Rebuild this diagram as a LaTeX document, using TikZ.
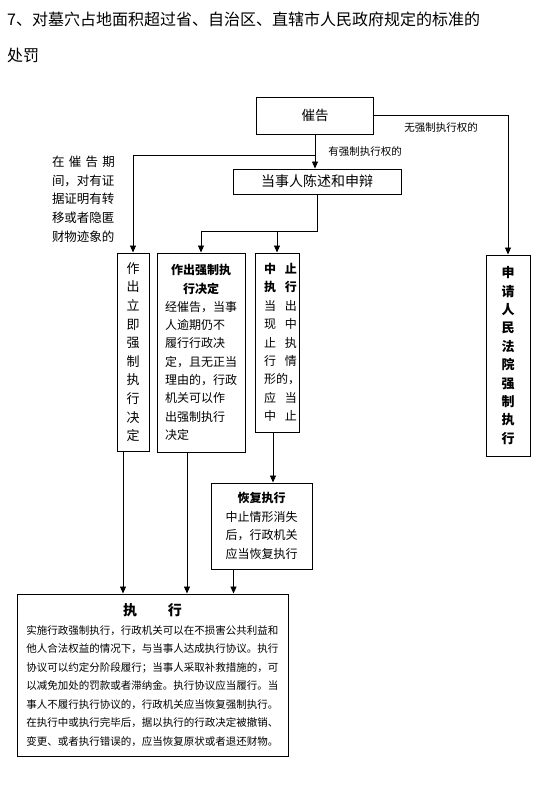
\documentclass[tikz,border=0pt]{standalone}
\usepackage{fontspec}
\setmainfont{Noto Sans CJK SC}
\usetikzlibrary{positioning, arrows.meta}

\newcommand{\twochar}[2]{\makebox[40pt][r]{\makebox[33pt][s]{#1\hfill#2}}}

\begin{document}
\begin{tikzpicture}[x=1pt, y=-1pt,
        box/.style={draw, line width=1pt, inner sep=0pt},
        note/.style={inner sep=0pt, font=\fontsize{10.5}{12}\selectfont},
        arrow/.style={-{Triangle[width=6pt, length=7pt]}, line width=0.9pt}
    ]
    \useasboundingbox (0,0) rectangle (547,788);

    % heading
    \node[anchor=west, inner sep=0pt, font=\fontsize{16}{18}\selectfont] (title) at (7,19) {7、对墓穴占地面积超过省、自治区、直辖市人民政府规定的标准的};
    \node[anchor=west, inner sep=0pt, font=\fontsize{16}{18}\selectfont] (title2) at (7,55) {处罚};

    \node[box, minimum width=117, minimum height=37, font=\fontsize{13.5}{16}\selectfont] (cuigao) at (315,115.5) {催告};
    \node[box, minimum width=168, minimum height=25, font=\fontsize{14}{16}\selectfont] (chenshu) at (317,181.5) {当事人陈述和申辩};
    \node[inner sep=0pt, align=left, font=\fontsize{12.5}{18.75}\selectfont] (youzheng) at (83.5,199) {\makebox[63pt][s]{在\hfill 催\hfill 告\hfill 期}\\间，对有证\\据证明有转\\移或者隐匿\\财物迹象的};

    % middle row
    \node[box, minimum width=32, minimum height=198, align=center, font=\fontsize{13}{18.6}\selectfont] (liji) at (133,352) {作\\出\\立\\即\\强\\制\\执\\行\\决\\定};
    \node[box, minimum width=88, minimum height=199, align=left, font=\fontsize{12}{18.3}\selectfont] (qiangzhi) at (201,352.5) {\makebox[72pt]{\bfseries 作出强制执}\\\makebox[72pt]{\bfseries 行决定}\\经催告，当事\\人逾期仍不\\履行行政决\\定，且无正当\\理由的，行政\\机关可以作\\出强制执行\\决定};
    \node[box, minimum width=44, minimum height=179, align=left, font=\fontsize{12}{18.4}\selectfont] (zhongzhi) at (277,342.5) {{\bfseries\twochar{中}{止}}\\{\bfseries\twochar{执}{行}}\\\twochar{当}{出}\\\twochar{现}{中}\\\twochar{止}{执}\\\twochar{行}{情}\\\makebox[40pt][r]{\makebox[33pt][l]{形的，}}\\\twochar{应}{当}\\\twochar{中}{止}};
    \node[box, minimum width=44, minimum height=201, align=center, font=\fontsize{13}{18.4}\selectfont\bfseries] (shenqing) at (508,355.5) {申\\请\\人\\民\\法\\院\\强\\制\\执\\行};
    \node[box, minimum width=101, minimum height=86, align=center, font=\fontsize{12}{18.5}\selectfont] (huifu) at (261.5,526) {{\bfseries 恢复执行}\\中止情形消失\\后，行政机关\\应当恢复执行};

    % bottom
    \node[box, minimum width=271, minimum height=162, align=left, font=\fontsize{10.5}{18.5}\selectfont] (zhixing) at (152.5,675) {\makebox[252pt]{\fontsize{14}{18.5}\selectfont\bfseries 执\hspace{2.2em}行}\\实施行政强制执行，行政机关可以在不损害公共利益和\\他人合法权益的情况下，与当事人达成执行协议。执行\\协议可以约定分阶段履行；当事人采取补救措施的，可\\以减免加处的罚款或者滞纳金。执行协议应当履行。当\\事人不履行执行协议的，行政机关应当恢复强制执行。\\在执行中或执行完毕后，据以执行的行政决定被撤销、\\变更、或者执行错误的，应当恢复原状或者退还财物。};

    \coordinate (split) at (315,155);
    \coordinate (branch) at (317,231);

    \draw[arrow] (cuigao.south) -- (cuigao.south |- chenshu.north) node[note, midway, anchor=west, xshift=13] {有强制执行权的};
    \draw[arrow] (cuigao.east) -| (shenqing.north) node[note, pos=0.25, anchor=north, yshift=-6.5] {无强制执行权的};
    \draw[arrow] (split) -| (liji.north);
    \draw[arrow] (chenshu.south) -- (branch) -| (qiangzhi.north);
    \draw[arrow] (zhongzhi.north |- branch) -- (zhongzhi.north);
    \draw[arrow] ([xshift=-10]liji.south) -- ([xshift=-10]liji.south |- zhixing.north);
    \draw[arrow] ([xshift=-14]qiangzhi.south) -- ([xshift=-14]qiangzhi.south |- zhixing.north);
    \draw[arrow] ([xshift=-4]zhongzhi.south) -- ([xshift=-4]zhongzhi.south |- huifu.north);
    \draw[arrow] ([xshift=-28]huifu.south) -- ([xshift=-28]huifu.south |- zhixing.north);
\end{tikzpicture}
\end{document}
